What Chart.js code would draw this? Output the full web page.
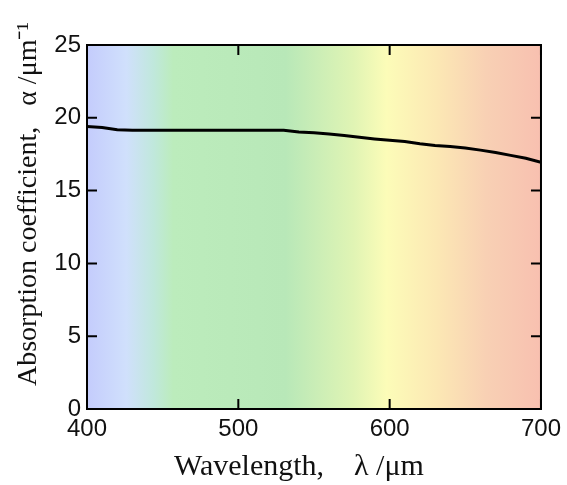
<!DOCTYPE html>
<html>
<head>
<meta charset="utf-8">
<script src="https://cdn.jsdelivr.net/npm/chart.js@4/dist/chart.umd.min.js"></script>
<style>
html,body{margin:0;padding:0;background:#fff;}
#wrap{width:567px;height:485px;position:relative;}
</style>
</head>
<body>
<div id="wrap"><canvas id="c" width="567" height="485"></canvas></div>
<script>
// ---- data ----
const wavelengths = [400,410,420,430,440,450,460,470,480,490,500,510,520,530,540,550,560,570,580,590,600,610,620,630,640,650,660,670,680,690,700];
const absorption  = [19.40,19.33,19.18,19.15,19.15,19.15,19.15,19.15,19.15,19.15,19.15,19.15,19.15,19.15,19.03,18.98,18.88,18.79,18.67,18.55,18.45,18.37,18.22,18.10,18.03,17.93,17.78,17.62,17.42,17.22,16.95];
const xTicks = [400,500,600,700];
const yTicks = [0,5,10,15,20,25];
const xTitle = "Wavelength,\u2003\u03bb /\u03bcm";
const yTitle = "Absorption coefficient,\u2002 \u03b1 /\u03bcm\u207b\u00b9";
// background spectrum stops (wavelength, colour)
const bgStopsNm = [400,426,444,457,531,576,598,631,664,700];
const bgStopsColor = ['#c4ccfc','#d0e0fc','#c0e8dc','#bcecbc','#b8e8b8','#e0f4b4','#fcfcb8','#fce8b4','#f8d0b4','#f8c0b0'];

const points = wavelengths.map((w,i)=>({x:w,y:absorption[i]}));

const framePlugin = {
  id:'frame',
  beforeDatasetsDraw(chart){
    const {ctx, chartArea:a, scales:{x}} = chart;
    const g = ctx.createLinearGradient(a.left,0,a.right,0);
    const w = a.right - a.left;
    bgStopsNm.forEach((nm,i)=>{
      let t = (x.getPixelForValue(nm)-a.left)/w;
      t = Math.min(1,Math.max(0,t));
      g.addColorStop(t,bgStopsColor[i]);
    });
    ctx.save();
    ctx.fillStyle = g;
    ctx.fillRect(a.left,a.top,w,a.bottom-a.top);
    ctx.restore();
  },
  afterDraw(chart){
    const {ctx, chartArea:a, scales:{x,y}} = chart;
    ctx.save();
    ctx.strokeStyle = '#000';
    ctx.lineWidth = 2;
    ctx.strokeRect(a.left,a.top,a.right-a.left,a.bottom-a.top);
    const L = 10;
    ctx.beginPath();
    xTicks.forEach(v=>{
      const px = x.getPixelForValue(v);
      ctx.moveTo(px,a.bottom); ctx.lineTo(px,a.bottom-L);
      ctx.moveTo(px,a.top); ctx.lineTo(px,a.top+L);
    });
    yTicks.forEach(v=>{
      const py = y.getPixelForValue(v);
      ctx.moveTo(a.left,py); ctx.lineTo(a.left+L,py);
      ctx.moveTo(a.right,py); ctx.lineTo(a.right-L,py);
    });
    ctx.stroke();
    // titles
    ctx.fillStyle = '#111';
    ctx.textAlign = 'left';
    ctx.textBaseline = 'alphabetic';
    ctx.font = '30px "Liberation Serif", "Times New Roman", serif';
    ctx.fillText(xTitle, 174, 475);
    ctx.font = '28px "Liberation Serif", "Times New Roman", serif';
    ctx.translate(36, 386);
    ctx.rotate(-Math.PI/2);
    ctx.fillText(yTitle, 0, 0);
    ctx.restore();
  }
};

new Chart(document.getElementById('c'), {
  type:'line',
  data:{datasets:[{
    data: points,
    borderColor:'#000',
    borderWidth:3,
    pointRadius:0,
    fill:false,
    tension:0
  }]},
  options:{
    responsive:false,
    animation:false,
    devicePixelRatio:1,
    layout:{padding:{left:0,right:26,top:45,bottom:0}},
    plugins:{legend:{display:false},tooltip:{enabled:false}},
    scales:{
      x:{
        type:'linear', min:400, max:700,
        afterBuildTicks(s){ s.ticks = xTicks.map(v=>({value:v})); },
        afterFit(s){ s.height = 76; },
        grid:{display:false, drawTicks:false},
        border:{display:false},
        ticks:{color:'#111', padding:6, maxRotation:0, font:{family:'"Liberation Sans", Arial, sans-serif', size:24}}
      },
      y:{
        type:'linear', min:0, max:25,
        afterBuildTicks(s){ s.ticks = yTicks.map(v=>({value:v})); },
        afterFit(s){ s.width = 87; },
        grid:{display:false, drawTicks:false},
        border:{display:false},
        ticks:{color:'#111', padding:6, font:{family:'"Liberation Sans", Arial, sans-serif', size:24}}
      }
    }
  },
  plugins:[framePlugin]
});
</script>
</body>
</html>
